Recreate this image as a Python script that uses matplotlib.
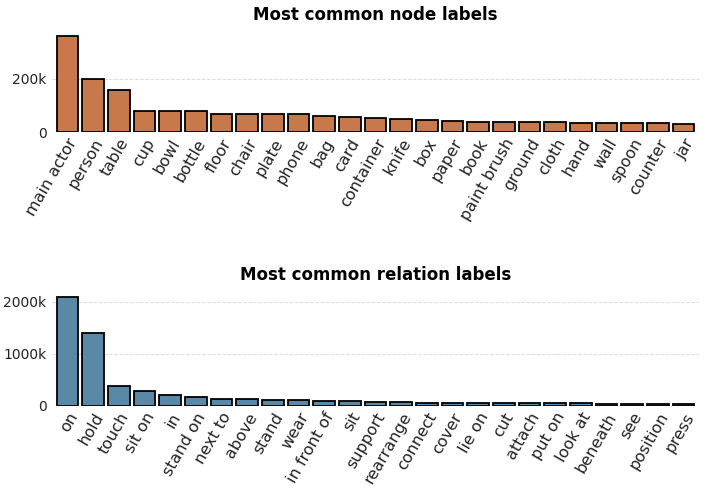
import matplotlib
matplotlib.use("Agg")
import matplotlib.pyplot as plt
from matplotlib.ticker import FuncFormatter

node_labels = ["main actor", "person", "table", "cup", "bowl", "bottle", "floor",
               "chair", "plate", "phone", "bag", "card", "container", "knife", "box",
               "paper", "book", "paint brush", "ground", "cloth", "hand", "wall",
               "spoon", "counter", "jar"]
node_counts = [360000, 197000, 158000, 80000, 79000, 77000, 69000,
               67000, 67000, 66000, 59000, 57000, 54000, 49000, 46000,
               42000, 38000, 37000, 36000, 36000, 35000, 35000,
               33000, 32000, 30000]

rel_labels = ["on", "hold", "touch", "sit on", "in", "stand on", "next to", "above",
              "stand", "wear", "in front of", "sit", "support", "rearrange", "connect",
              "cover", "lie on", "cut", "attach", "put on", "look at", "beneath",
              "see", "position", "press"]
rel_counts = [2090000, 1398000, 385000, 282000, 205000, 167000, 129000, 125000,
              115000, 112000, 97000, 84000, 75000, 68000, 60000,
              58000, 56000, 55000, 52000, 50000, 49000, 42000,
              38000, 36000, 35000]

kfmt = FuncFormatter(lambda v, p: "0" if v == 0 else f"{int(v/1000)}k")

fig = plt.figure(figsize=(7.06, 4.90), dpi=100)
ax1 = fig.add_axes([0.0737, 0.7306, 0.9163, 0.2061])
ax2 = fig.add_axes([0.0737, 0.172, 0.9163, 0.233])

panels = [
    (ax1, node_labels, node_counts, "#c8794c", "Most common node labels", [0, 200000]),
    (ax2, rel_labels, rel_counts, "#5a89a8", "Most common relation labels", [0, 1000000, 2000000]),
]

for ax, labels, counts, color, title, ticks in panels:
    x = range(len(labels))
    ax.bar(x, counts, width=0.84, color=color, edgecolor="black", linewidth=1.3, zorder=2)
    ax.set_title(title, fontsize=12, fontweight="bold", pad=8)
    ax.set_xticks(list(x))
    ax.set_xticklabels(labels, rotation=60, ha="right", rotation_mode="anchor",
                       fontsize=11.5, color="#222222")
    ax.set_yticks(ticks)
    ax.yaxis.set_major_formatter(kfmt)
    ax.tick_params(axis="y", labelsize=10, length=0, pad=4, labelcolor="#222222")
    ax.tick_params(axis="x", length=0, pad=3)
    ax.set_xlim(-0.6, len(labels) - 0.4)
    ax.set_ylim(0, max(counts) * 1.05)
    ax.grid(axis="y", color="#d8dde6", linestyle="--", linewidth=0.7, zorder=0)
    for s in ax.spines.values():
        s.set_visible(False)

plt.savefig("out.png")
